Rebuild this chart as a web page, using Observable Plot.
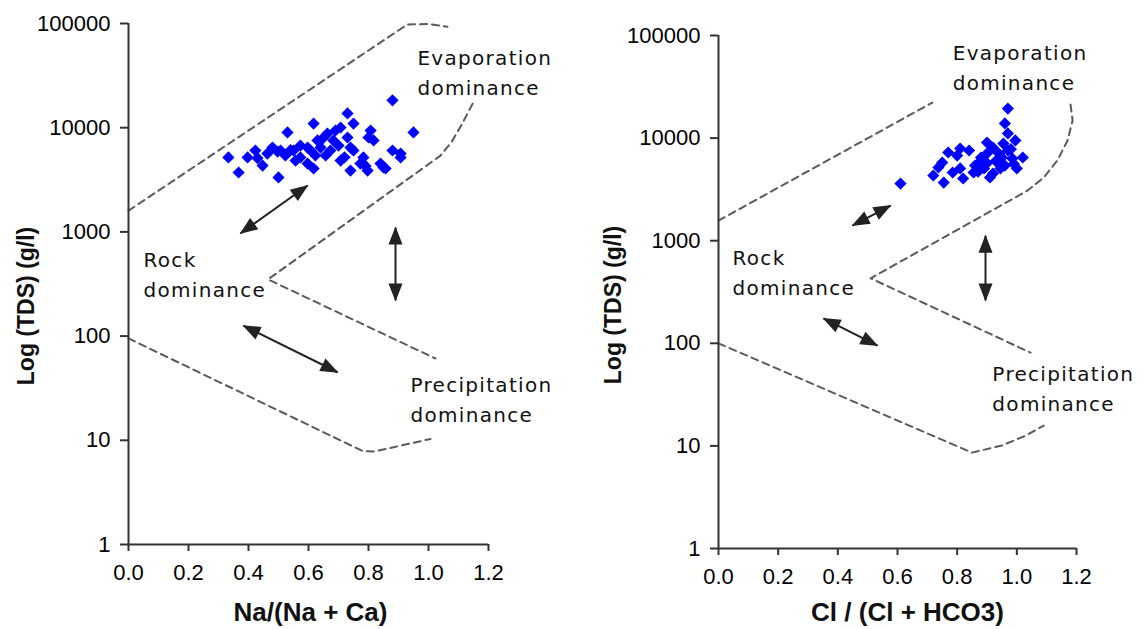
<!DOCTYPE html>
<html><head><meta charset="utf-8">
<script src="https://cdn.jsdelivr.net/npm/d3@7"></script>
<script src="https://cdn.jsdelivr.net/npm/@observablehq/plot@0.6"></script>
<style>
body{margin:0;background:#fff;}
#wrap{display:flex;width:1145px;height:629px;overflow:hidden;}
</style></head><body><div id="wrap"></div>
<script>
// ---- axis ticks ----
const yTicks = [1, 10, 100, 1000, 10000, 100000];
const xTicks = [0, 0.2, 0.4, 0.6, 0.8, 1.0, 1.2];

// ---- samples: left panel Na/(Na+Ca) vs TDS ----
const naRatio = [0.333,0.367,0.397,0.423,0.43,0.447,0.463,0.48,0.497,0.5,0.507,0.523,0.53,0.54,0.55,0.557,0.573,0.573,0.597,0.597,0.607,0.617,0.617,0.623,0.63,0.64,0.647,0.657,0.663,0.673,0.683,0.69,0.70,0.707,0.707,0.72,0.73,0.73,0.74,0.74,0.75,0.75,0.773,0.783,0.79,0.797,0.8,0.807,0.817,0.84,0.85,0.857,0.88,0.88,0.907,0.907,0.95];
const naTDS   = [5180,3715,5180,6040,5100,4335,5650,6450,5900,3330,6040,5410,9000,6100,6040,4840,5180,6740,4530,6450,6040,10960,4060,5410,7540,6450,7870,5410,8790,6040,7540,9400,6740,10040,4840,5200,13700,8050,6450,3880,10960,6040,4530,5180,4300,3880,8050,9400,7540,4530,4150,4060,18300,6040,5180,5650,9000];

// ---- samples: right panel Cl/(Cl+HCO3) vs TDS ----
const clRatio = [0.61,0.72,0.737,0.75,0.755,0.77,0.785,0.80,0.81,0.81,0.82,0.84,0.855,0.86,0.87,0.87,0.88,0.89,0.90,0.90,0.90,0.91,0.92,0.92,0.93,0.935,0.94,0.945,0.95,0.955,0.96,0.96,0.97,0.97,0.97,0.98,0.985,0.99,0.995,1.0,1.02];
const clTDS   = [3600,4320,5170,5780,3690,7240,4620,6760,5060,7920,4040,7570,4620,5400,5650,4700,6470,5060,9060,7080,5700,4130,4520,8090,6000,5780,7080,5060,6470,8850,13900,5400,19400,11100,7570,7800,6320,5600,9480,5060,6470];

// ---- Gibbs boundary envelopes (dashed) ----
const leftUpperX = [0, 0.93, 1.0, 1.063];
const leftUpperY = [1600, 98000, 99000, 93000];
const leftMidX = [1.147, 1.113, 1.077, 1.04, 0.465, 1.023];
const leftMidY = [17000, 11000, 7300, 5400, 350, 61];
const leftLowerX = [0, 0.78, 0.82, 0.9, 1.007];
const leftLowerY = [95, 7.9, 7.8, 8.8, 10.3];

const rightUpperX = [0, 0.717];
const rightUpperY = [1570, 22200];
const rightMidX = [1.18, 1.187, 1.17, 1.136, 1.09, 1.036, 0.51, 1.046];
const rightMidY = [21200, 14900, 9480, 6050, 4130, 3080, 430, 81];
const rightLowerX = [0, 0.85, 0.95, 1.03, 1.09];
const rightLowerY = [100, 8.6, 10.1, 12.6, 15.8];

// ---- double-headed arrows ----
const leftArrowX1 = [0.373, 0.89, 0.383];
const leftArrowY1 = [966, 1100, 126];
const leftArrowX2 = [0.597, 0.89, 0.697];
const leftArrowY2 = [2790, 220, 45];
const rightArrowX1 = [0.449, 0.895, 0.352];
const rightArrowY1 = [1406, 1120, 175];
const rightArrowX2 = [0.577, 0.895, 0.533];
const rightArrowY2 = [2200, 261, 95];

// ---- region labels ----
const regionNames = ["Evaporation\ndominance", "Rock\ndominance", "Precipitation\ndominance"];
const leftLabelX = [0.963, 0.05, 0.94];
const leftLabelY = [35400, 408, 25.8];
const rightLabelX = [0.785, 0.047, 0.918];
const rightLabelY = [51000, 512, 37.9];

function arrowHead(color, context) {
  const doc = (context && context.document) ? context.document : document;
  const ns = "http://www.w3.org/2000/svg";
  const m = doc.createElementNS(ns, "marker");
  m.setAttribute("viewBox", "-17 -8 18 16");
  m.setAttribute("markerWidth", 18);
  m.setAttribute("markerHeight", 16);
  m.setAttribute("markerUnits", "userSpaceOnUse");
  m.setAttribute("orient", "auto-start-reverse");
  m.setAttribute("overflow", "visible");
  const p = doc.createElementNS(ns, "path");
  p.setAttribute("d", "M-17,-7L1,0L-17,7Z");
  p.setAttribute("fill", color);
  p.setAttribute("stroke", "none");
  m.appendChild(p);
  return m;
}

const zip2 = (xs, ys) => xs.map((x, i) => ({x, y: ys[i]}));

function panel(cfg) {
  const pts = zip2(cfg.px, cfg.py);
  const arrows = cfg.ax1.map((x1, i) => ({x1, y1: cfg.ay1[i], x2: cfg.ax2[i], y2: cfg.ay2[i]}));
  const labels = regionNames.map((t, i) => ({t, x: cfg.lx[i], y: cfg.ly[i]}));
  const dash = {stroke: "#5a5a5a", strokeWidth: 2, strokeDasharray: "7,5"};
  const svg = Plot.plot({
    width: cfg.width, height: 629,
    marginLeft: cfg.ml, marginRight: cfg.mr, marginTop: cfg.mt, marginBottom: cfg.mb,
    style: {fontFamily: "'Liberation Sans', Arial, sans-serif", fontSize: "22px", color: "#111", background: "#fff"},
    x: {domain: [0, 1.2]},
    y: {type: "log", domain: [1, 100000]},
    marks: [
      Plot.line(zip2(cfg.ux, cfg.uy), {x: "x", y: "y", ...dash}),
      Plot.line(zip2(cfg.mx, cfg.my), {x: "x", y: "y", ...dash}),
      Plot.line(zip2(cfg.lwx, cfg.lwy), {x: "x", y: "y", ...dash}),
      Plot.link(arrows, {x1: "x1", y1: "y1", x2: "x2", y2: "y2", stroke: "#222", strokeWidth: 2, markerStart: arrowHead, markerEnd: arrowHead}),
      Plot.dot(pts, {x: "x", y: "y", symbol: "diamond2", r: 5.5, fill: "#0000ff", stroke: "none"}),
      Plot.text(labels, {x: "x", y: "y", text: "t", textAnchor: "start", lineAnchor: "middle", lineHeight: 1.5, fontFamily: "'DejaVu Sans', Verdana, sans-serif", fontSize: 20, fill: "#111"}),
      Plot.ruleX([0], {y1: 1, y2: 100000, stroke: "#333", strokeWidth: 2}),
      Plot.ruleY([1], {x1: 0, x2: 1.2, stroke: "#333", strokeWidth: 2}),
      Plot.axisY(yTicks, {tickSize: 8, tickPadding: 10, tickFormat: d => String(d), label: null, stroke: "#333", strokeWidth: 2, fill: "#000"}),
      Plot.axisX(xTicks, {tickSize: 7, tickPadding: 13, tickFormat: d3.format(".1f"), label: null, stroke: "#333", strokeWidth: 2, fill: "#000"}),
      Plot.text([cfg.xTitle], {frameAnchor: "bottom", textAnchor: "middle", lineAnchor: "middle", dx: cfg.xdx, dy: cfg.xdy, fontWeight: "bold", fontSize: 26, fill: "#111"}),
      Plot.text([cfg.yTitle], {frameAnchor: "left", textAnchor: "middle", lineAnchor: "middle", dx: cfg.ydx, dy: cfg.ydy, rotate: -90, fontWeight: "bold", fontSize: 23, fill: "#111"})
    ]
  });
  d3.select(svg).selectAll("text").filter(function() { return /dominance/.test(this.textContent); })
    .attr("letter-spacing", "1.3px");
  return svg;
}

const wrap = document.getElementById("wrap");
wrap.appendChild(panel({
  width: 575, ml: 128, mr: 87, mt: 23, mb: 85,
  px: naRatio, py: naTDS,
  ux: leftUpperX, uy: leftUpperY, mx: leftMidX, my: leftMidY, lwx: leftLowerX, lwy: leftLowerY,
  ax1: leftArrowX1, ay1: leftArrowY1, ax2: leftArrowX2, ay2: leftArrowY2,
  lx: leftLabelX, ly: leftLabelY,
  xTitle: "Na/(Na + Ca)", xdx: 2, xdy: 68, yTitle: "Log (TDS) (g/l)", ydx: -102, ydy: 22
}));
wrap.appendChild(panel({
  width: 570, ml: 143, mr: 69, mt: 35, mb: 81,
  px: clRatio, py: clTDS,
  ux: rightUpperX, uy: rightUpperY, mx: rightMidX, my: rightMidY, lwx: rightLowerX, lwy: rightLowerY,
  ax1: rightArrowX1, ay1: rightArrowY1, ax2: rightArrowX2, ay2: rightArrowY2,
  lx: rightLabelX, ly: rightLabelY,
  xTitle: "Cl / (Cl + HCO3)", xdx: 10, xdy: 64, yTitle: "Log (TDS) (g/l)", ydx: -105, ydy: 13
}));
</script>
</body></html>
